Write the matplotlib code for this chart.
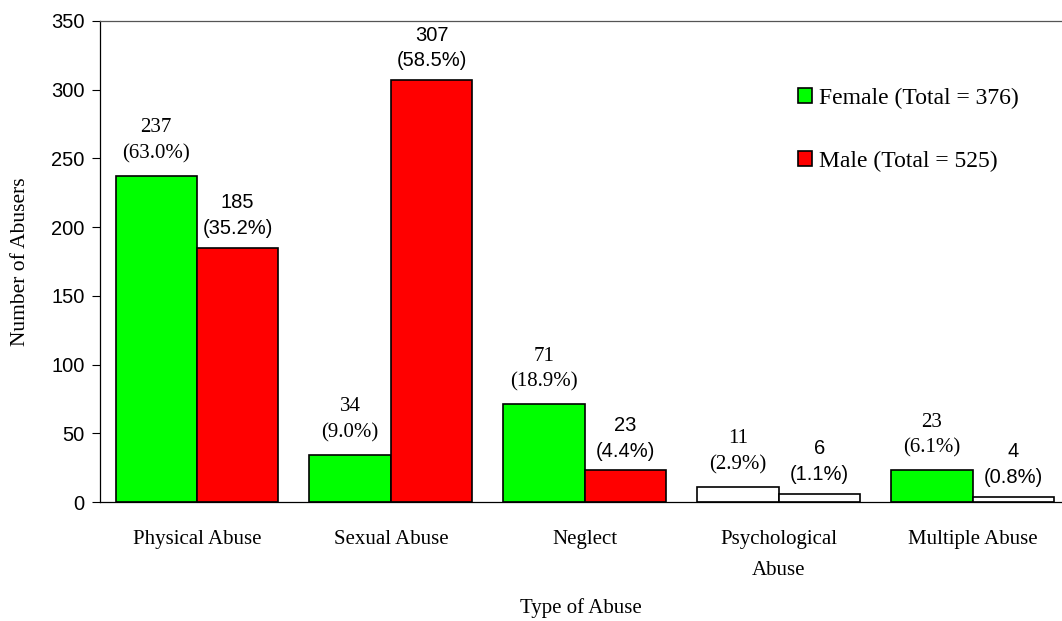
import numpy as np
import matplotlib.pyplot as plt
from matplotlib.patches import Patch

# Data
categories = ["Physical Abuse", "Sexual Abuse", "Neglect", "Psychological\nAbuse", "Multiple Abuse"]
female = [237, 34, 71, 11, 23]
male = [185, 307, 23, 6, 4]
female_pct = ["63.0%", "9.0%", "18.9%", "2.9%", "6.1%"]
male_pct = ["35.2%", "58.5%", "4.4%", "1.1%", "0.8%"]
female_colors = ["#00FF00", "#00FF00", "#00FF00", "white", "#00FF00"]
male_colors = ["#FF0000", "#FF0000", "#FF0000", "white", "white"]

serif = "Liberation Serif"
sans = "Liberation Sans"

fig = plt.figure(figsize=(10.62, 6.21), dpi=100)
ax = fig.add_axes([100 / 1062, 1 - 502 / 621, 1 - 100 / 1062, 481 / 621])

x = np.arange(len(categories))
w = 0.42
ax.bar(x - w / 2, female, w, color=female_colors, edgecolor="black", linewidth=1.2)
ax.bar(x + w / 2, male, w, color=male_colors, edgecolor="black", linewidth=1.2)

for i in range(len(categories)):
    ax.annotate(f"{female[i]}\n({female_pct[i]})", (x[i] - w / 2, female[i]),
                xytext=(0, 9), textcoords="offset points", ha="center", va="bottom",
                fontsize=15, family=serif, linespacing=1.5)
    ax.annotate(f"{male[i]}\n({male_pct[i]})", (x[i] + w / 2, male[i]),
                xytext=(0, 7), textcoords="offset points", ha="center", va="bottom",
                fontsize=14.5, family=sans, linespacing=1.45)

ax.set_xlim(-0.5, 4.46)
ax.set_ylim(0, 350)
ax.set_yticks(range(0, 351, 50))
ax.set_xticks(x)
ax.set_xticklabels(categories, family=serif, fontsize=15, linespacing=1.85)
ax.tick_params(axis="x", length=0, pad=20)
ax.tick_params(axis="y", direction="out", length=6, pad=5, labelsize=14.5)
for lab in ax.get_yticklabels():
    lab.set_family(sans)

ax.spines["right"].set_visible(False)
for s in ["top", "left", "bottom"]:
    ax.spines[s].set_linewidth(0.9)
ax.spines["top"].set_color("#555555")

ax.set_xlabel("Type of Abuse", family=serif, fontsize=15, labelpad=13)
ax.set_ylabel("Number of Abusers", family=serif, fontsize=15.5, labelpad=15)

handles = [Patch(facecolor="#00FF00", edgecolor="black", linewidth=1.2),
           Patch(facecolor="#FF0000", edgecolor="black", linewidth=1.2)]
ax.legend(handles, ["Female (Total = 376)", "Male (Total = 525)"],
          loc="upper left", bbox_to_anchor=(0.703, 0.905), frameon=False,
          prop={"family": serif, "size": 17}, handlelength=0.6, handleheight=0.6,
          handletextpad=0.3, labelspacing=1.75)

fig.savefig("out.png", dpi=100)
